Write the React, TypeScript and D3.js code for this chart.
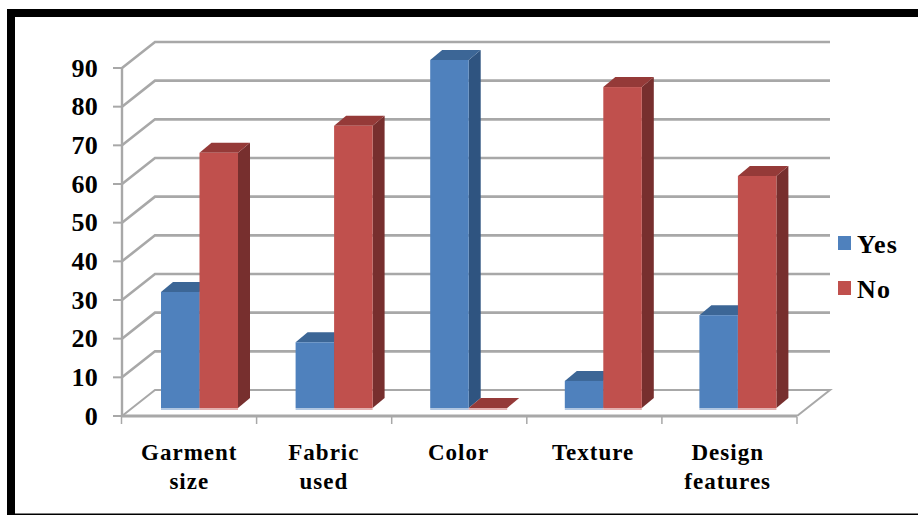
import React from "react";
import * as d3 from "d3";

const categories = [["Garment", "size"], ["Fabric", "used"], ["Color"], ["Texture"], ["Design", "features"]];
const yesValues = [30, 17, 90, 7, 24];
const noValues = [66, 73, 0, 83, 60];
const seriesNames = ["Yes", "No"];
const ticks = [0, 10, 20, 30, 40, 50, 60, 70, 80, 90];

const WIDTH = 918, HEIGHT = 515;
const FRONT_L = 122, FRONT_R = 797, DX = 33, DY = 26, BAR_DX = 12, BAR_DY = 10;
const FONT = "'Liberation Serif', serif";
const GRID = "#a8a8a8";

const yAxis = d3.scaleLinear().domain([0, 90]).range([416, 68]);
const yBar = d3.scaleLinear().domain([0, 90]).range([408, 60]);
const xBand = d3.scaleBand<number>().domain(d3.range(categories.length)).range([FRONT_L - 0.5, FRONT_R]);
const xGroup = d3.scaleBand<number>().domain(d3.range(categories.length)).range([121, 794]);
const xSeries = d3.scaleBand<number>().domain([0, 1]).range([40, 117]);

const colors = [
  { front: "#4f81bd", top: "#3c6696", side: "#2f5480" },
  { front: "#c0504d", top: "#953a38", side: "#772f2e" },
];

function Bar({ x, w, v, c }: { x: number; w: number; v: number; c: typeof colors[0] }) {
  const top = yBar(v), base = yBar(0);
  const r = x + w;
  return (
    <g>
      <rect x={x} y={base} width={w} height={2} fill={c.front} opacity={0.45} />
      <path d={`M${r},${top}L${r + BAR_DX},${top - BAR_DY}V${base - BAR_DY}L${r},${base}Z`} fill={c.side} />
      <path d={`M${x},${top}L${x + BAR_DX},${top - BAR_DY}H${r + BAR_DX}L${r},${top}Z`} fill={c.top} />
      <rect x={x} y={top} width={w} height={base - top} fill={c.front} />
    </g>
  );
}

export default function App() {
  return (
    <svg width={WIDTH} height={HEIGHT} style={{ position: "absolute", left: 0, top: 0, background: "#fff" }} fontFamily={FONT}>
      <rect x={7} y={9} width={WIDTH - 7} height={8} fill="#000" />
      <rect x={7} y={9} width={8} height={HEIGHT - 9} fill="#000" />
      <rect x={7} y={513.5} width={WIDTH - 7} height={1.5} fill="#000" />

      {ticks.map(t => {
        const y = yAxis(t);
        return (
          <g key={t}>
            {t > 0 && <path d={`M${FRONT_L},${y}L${FRONT_L + DX},${y - DY}H${FRONT_R + DX}`} fill="none" stroke={GRID} strokeWidth={2.6} />}
            {t === 0 && <path d={`M${FRONT_L},${y}L${FRONT_L + DX},${y - DY}H${FRONT_R + DX}L${FRONT_R},${y}`} fill="none" stroke={GRID} strokeWidth={2} />}
            <line x1={FRONT_L - 9} x2={FRONT_L} y1={y} y2={y} stroke={GRID} strokeWidth={2} />
            <text x={98} y={y + 8.5} textAnchor="end" fontSize={26} fontWeight="bold" letterSpacing={0.3} fill="#000">{t}</text>
          </g>
        );
      })}
      <line x1={FRONT_L} x2={FRONT_L} y1={yAxis(90)} y2={yAxis(0)} stroke={GRID} strokeWidth={2.4} />
      <line x1={FRONT_L} x2={FRONT_R} y1={yAxis(0)} y2={yAxis(0)} stroke={GRID} strokeWidth={3} />
      {[...xBand.domain(), categories.length].map(i => {
        const x = i < categories.length ? xBand(i)! : FRONT_R;
        return <line key={i} x1={x} x2={x} y1={417} y2={424} stroke={GRID} strokeWidth={1.5} />;
      })}

      {categories.map((lines, i) => {
        const x0 = xGroup(i)!;
        const w = xSeries.bandwidth();
        return (
          <g key={i}>
            <Bar x={x0 + xSeries(0)!} w={w} v={yesValues[i]} c={colors[0]} />
            <Bar x={x0 + xSeries(1)!} w={w} v={noValues[i]} c={colors[1]} />
            {lines.map((l, j) => (
              <text key={l} x={x0 + xGroup.bandwidth() / 2 + 1} y={460 + j * 28.5} textAnchor="middle" fontSize={23} fontWeight="bold" letterSpacing={1} fill="#000">{l}</text>
            ))}
          </g>
        );
      })}

      {seriesNames.map((s, i) => (
        <g key={s}>
          <rect x={838} y={236 + i * 45} width={13} height={14} fill={colors[i].front} />
          <text x={857} y={253 + i * 45} fontSize={26} fontWeight="bold" letterSpacing={1.2} fill="#000">{s}</text>
        </g>
      ))}
    </svg>
  );
}
